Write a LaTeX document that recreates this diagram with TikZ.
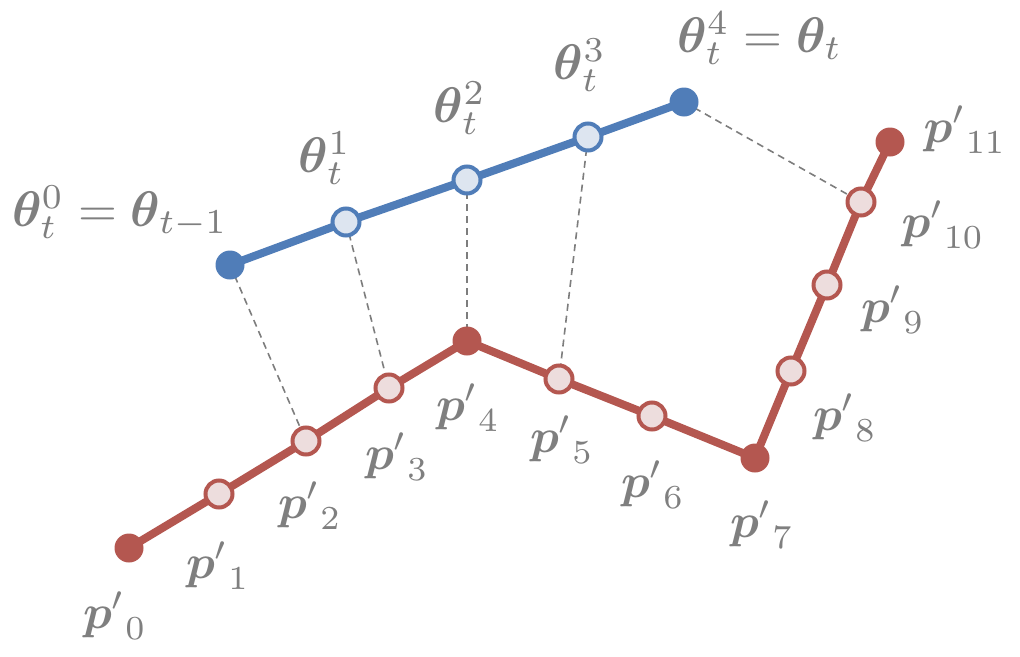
\documentclass[tikz,border=0pt]{standalone}
\usepackage{amsmath,bm}
\usetikzlibrary{backgrounds}
\definecolor{bblue}{RGB}{80,125,184}
\definecolor{lblue}{RGB}{221,229,240}
\definecolor{rred}{RGB}{180,87,80}
\definecolor{lred}{RGB}{237,221,221}
\definecolor{tgray}{RGB}{127,127,127}
\definecolor{dgray}{RGB}{125,125,125}
\newcommand{\LBL}[1]{\scalebox{5.0}{#1}}
\newcommand{\PBL}[1]{\scalebox{4.8}{#1}}
\tikzset{
  bend/.style={circle,inner sep=0pt,minimum size=29pt,fill=#1},
  mid/.style={circle,inner sep=0pt,minimum size=27pt,draw=#1,line width=4pt,fill=#1!15!white},
  thick line/.style={line width=8pt,draw=#1},
  proj/.style={draw=dgray,line width=1.6pt,dash pattern=on 7pt off 5pt},
  lab/.style={text=tgray,inner sep=0pt}
}
\begin{document}
\begin{tikzpicture}[x=1pt,y=-1pt]
\useasboundingbox (0,0) rectangle (1020,656);
% theta path
\node[bend=bblue] (t0) at (230,265) {};
\node[mid=bblue,fill=lblue] (t1) at (346,222) {};
\node[mid=bblue,fill=lblue] (t2) at (467,180) {};
\node[mid=bblue,fill=lblue] (t3) at (588,137) {};
\node[bend=bblue] (t4) at (684,102) {};
% p path
\node[bend=rred] (p0) at (129,548) {};
\node[mid=rred,fill=lred] (p1) at (219,494) {};
\node[mid=rred,fill=lred] (p2) at (306,441) {};
\node[mid=rred,fill=lred] (p3) at (389,388) {};
\node[bend=rred] (p4) at (467,341) {};
\node[mid=rred,fill=lred] (p5) at (559,379) {};
\node[mid=rred,fill=lred] (p6) at (652,416) {};
\node[bend=rred] (p7) at (755,458) {};
\node[mid=rred,fill=lred] (p8) at (791,371) {};
\node[mid=rred,fill=lred] (p9) at (827,285) {};
\node[mid=rred,fill=lred] (p10) at (861,202) {};
\node[bend=rred] (p11) at (890,142) {};
\begin{scope}[on background layer]
\draw[proj] (t0.center) -- (p2.center);
\draw[proj] (t1.center) -- (p3.center);
\draw[proj] (t2.center) -- (p4.center);
\draw[proj] (t3.center) -- (p5.center);
\draw[proj] (t4.center) -- (p10.center);
\draw[thick line=bblue] (t0.center) -- (t1.center) -- (t2.center) -- (t3.center) -- (t4.center);
\draw[thick line=rred,line join=round] (p0.center) -- (p1.center) -- (p2.center) -- (p3.center) -- (p4.center) -- (p5.center) -- (p6.center) -- (p7.center) -- (p8.center) -- (p9.center) -- (p10.center) -- (p11.center);
\end{scope}
% labels
\node[lab] (lt0) at (120,212) {\LBL{$\bm{\theta}_t^0=\bm{\theta}_{t-1}$}};
\node[lab] (lt1) at (325,158) {\LBL{$\bm{\theta}_t^1$}};
\node[lab] (lt2) at (460,108) {\LBL{$\bm{\theta}_t^2$}};
\node[lab] (lt3) at (580,65) {\LBL{$\bm{\theta}_t^3$}};
\node[lab] (lt4) at (760,38) {\LBL{$\bm{\theta}_t^4=\bm{\theta}_t$}};
\node[lab] (lp0) at (115,616) {\PBL{${\bm{p}'}_0$}};
\node[lab] (lp1) at (218,566) {\PBL{${\bm{p}'}_1$}};
\node[lab] (lp2) at (310,506) {\PBL{${\bm{p}'}_2$}};
\node[lab] (lp3) at (397,457) {\PBL{${\bm{p}'}_3$}};
\node[lab] (lp4) at (468,408) {\PBL{${\bm{p}'}_4$}};
\node[lab] (lp5) at (562,440) {\PBL{${\bm{p}'}_5$}};
\node[lab] (lp6) at (653,485) {\PBL{${\bm{p}'}_6$}};
\node[lab] (lp7) at (762,525) {\PBL{${\bm{p}'}_7$}};
\node[lab] (lp8) at (845,418) {\PBL{${\bm{p}'}_8$}};
\node[lab] (lp9) at (893,310) {\PBL{${\bm{p}'}_9$}};
\node[lab] (lp10) at (943,225) {\PBL{${\bm{p}'}_{10}$}};
\node[lab] (lp11) at (965,130) {\PBL{${\bm{p}'}_{11}$}};
\end{tikzpicture}
\end{document}
